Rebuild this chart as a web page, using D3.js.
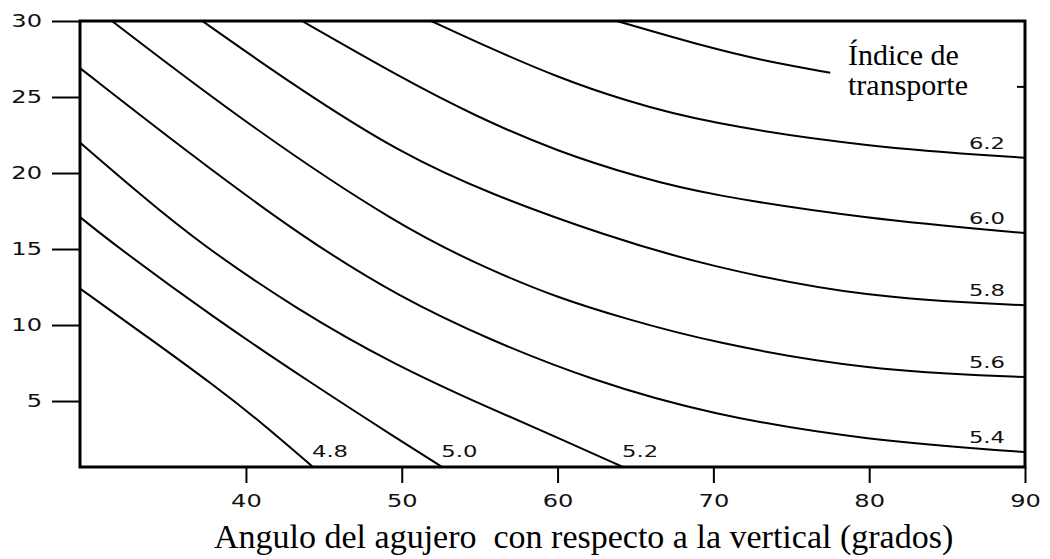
<!DOCTYPE html>
<html><head><meta charset="utf-8">
<script src="https://cdn.jsdelivr.net/npm/d3@7"></script>
<style>
body{margin:0;background:#fff}
</style></head><body><svg id="c" width="1050" height="559"></svg>
<script>
// ---- data ----
const xTicks = [40, 50, 60, 70, 80, 90];
const yTicks = [5, 10, 15, 20, 25, 30];
const rightTicks = [25.7];
const levels = ["4.8", "5.0", "5.2", "5.4", "5.6", "5.8", "6.0", "6.2", "6.4"];
const labelled = [true, true, true, true, true, true, true, true, false];
const c48 = [[29.35,12.4],[33.7,9.2],[38.0,6.0],[41.1,3.5],[44.3,0.66]];
const c50 = [[29.35,17.1],[31.4,15.4],[37.9,10.5],[44.3,6.1],[49.9,2.4],[52.6,0.66]];
const c52 = [[29.35,22.0],[33.2,18.6],[37.0,15.4],[43.3,11.0],[49.5,7.4],[55.7,4.5],[60.0,2.6],[64.2,0.66]];
const c54 = [[29.35,26.9],[36.6,21.1],[43.6,15.8],[49.9,11.8],[55.7,9.0],[62.1,6.4],[69.8,4.1],[79.9,2.4],[90,1.64]];
const c56 = [[31.4,30],[40.06,23.2],[49.9,16.45],[55.7,13.6],[60.0,11.8],[64.2,10.46],[69.8,8.88],[79.9,7.0],[90,6.58]];
const c58 = [[37.2,30],[43.3,25.6],[49.9,21.3],[55.7,18.6],[63.0,15.9],[69.5,13.9],[79.9,11.75],[90,11.3]];
const c60 = [[43.6,30],[49.9,26.3],[54.6,23.8],[60.0,21.4],[65.3,19.7],[69.5,18.6],[79.9,16.97],[90,16.05]];
const c62 = [[51.9,30],[55.7,28.2],[60.0,26.3],[64.2,24.8],[69.5,23.3],[79.9,21.7],[90,21.0]];
const c64 = [[63.8,30],[69.5,28.3],[73.6,27.3],[77.5,26.6]];
const curves = [c48, c50, c52, c54, c56, c58, c60, c62, c64];
const xTitle = "Angulo del agujero  con respecto a la vertical (grados)";
const legendLines = ["Índice de", "transporte"];

// ---- layout ----
const L = 80, R = 1025, T = 21, B = 467;
const x = d3.scaleLinear().domain([29.35, 90]).range([L, R]);
const y = d3.scaleLinear().domain([0.66, 30]).range([B, T]);
const svg = d3.select("#c");
svg.append("rect").attr("width",1050).attr("height",559).attr("fill","#fff");

svg.append("defs").append("clipPath").attr("id","pc")
  .append("rect").attr("x",L).attr("y",T).attr("width",R-L).attr("height",B-T);

const numFont = '"DejaVu Sans", sans-serif';
const SX = 1.42;

// y axis
const ya = svg.append("g").attr("transform",`translate(${L},0)`)
  .call(d3.axisLeft(y).tickValues(yTicks).tickSize(28).tickPadding(10).tickSizeOuter(0));
ya.select(".domain").remove();
ya.selectAll("line").attr("stroke","#000").attr("stroke-width",2);
ya.selectAll("text").attr("font-family",numFont).attr("font-size",17).attr("fill","#111")
  .attr("x",-38/SX).attr("transform",`scale(${SX},1)`);

// x axis
const xa = svg.append("g").attr("transform",`translate(0,${B})`)
  .call(d3.axisBottom(x).tickValues(xTicks).tickSize(16).tickPadding(12).tickSizeOuter(0));
xa.select(".domain").remove();
xa.selectAll("line").attr("stroke","#000").attr("stroke-width",2);
xa.selectAll("text").attr("font-family",numFont).attr("font-size",17).attr("fill","#111")
  .attr("transform",`scale(${SX},1)`);

// right inner tick
const ra = svg.append("g").attr("transform",`translate(${R},0)`)
  .call(d3.axisRight(y).tickValues(rightTicks).tickSize(-8).tickFormat("").tickSizeOuter(0));
ra.select(".domain").remove();
ra.selectAll("line").attr("stroke","#000").attr("stroke-width",2);

// contours
const line = d3.line().x(d=>x(d[0])).y(d=>y(d[1])).curve(d3.curveBasis);
svg.append("g").attr("clip-path","url(#pc)")
  .selectAll("path").data(curves).join("path")
  .attr("d",line).attr("fill","none").attr("stroke","#000").attr("stroke-width",2);

// frame
svg.append("rect").attr("x",L).attr("y",T).attr("width",R-L).attr("height",B-T)
  .attr("fill","none").attr("stroke","#000").attr("stroke-width",3);

// contour labels
curves.forEach((c,i)=>{
  if(!labelled[i]) return;
  const end = c[c.length-1];
  let tx, ty, anchor;
  if (end[0] >= 89.9) { tx = R - 20; ty = y(end[1]) - 9; anchor = "end"; }
  else { tx = x(end[0]) - 1; ty = B - 10; anchor = "start"; }
  svg.append("g").attr("transform",`translate(${tx},${ty})`)
    .append("text").attr("transform",`scale(${SX},1)`).attr("text-anchor",anchor)
    .attr("font-family",numFont).attr("font-size",16).attr("fill","#111").text(levels[i]);
});

// legend text
svg.append("g").selectAll("text").data(legendLines).join("text")
  .attr("x",848).attr("y",(d,i)=>65+i*30)
  .attr("font-family",'"Liberation Serif","Times New Roman",serif').attr("font-size",30)
  .attr("fill","#000").text(d=>d);

// x title
svg.append("text").attr("x",214).attr("y",548)
  .attr("font-family",'"Liberation Serif","Times New Roman",serif').attr("font-size",34)
  .attr("fill","#000").attr("xml:space","preserve").style("white-space","pre").text(xTitle);
</script></body></html>
